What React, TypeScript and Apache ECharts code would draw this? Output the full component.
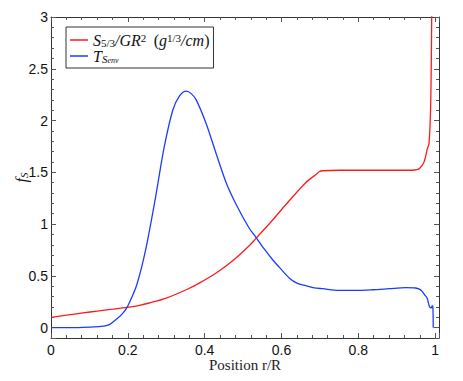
import React, { useEffect, useRef } from "react";
import * as echarts from "echarts";

// Red series: S_{5/3}/GR^2
const redX = [0, 0.04, 0.083, 0.12, 0.16, 0.198, 0.23, 0.256, 0.3, 0.352, 0.386, 0.43, 0.473, 0.516, 0.533, 0.577, 0.62, 0.663, 0.69, 0.698, 0.707, 0.75, 0.8, 0.85, 0.9, 0.94, 0.952, 0.96, 0.97, 0.975, 0.979, 0.984, 0.988, 0.99, 0.991, 0.992];
const redY = [0.1, 0.12, 0.142, 0.16, 0.178, 0.196, 0.215, 0.238, 0.286, 0.366, 0.43, 0.527, 0.645, 0.79, 0.86, 1.04, 1.225, 1.4, 1.48, 1.505, 1.515, 1.52, 1.52, 1.52, 1.52, 1.52, 1.525, 1.54, 1.59, 1.65, 1.72, 1.78, 2.1, 2.58, 3.0, 3.2];

// Blue series: T_{S_env}
const blueX = [0, 0.05, 0.1, 0.13, 0.152, 0.17, 0.185, 0.198, 0.21, 0.222, 0.235, 0.248, 0.261, 0.274, 0.295, 0.317, 0.335, 0.352, 0.365, 0.378, 0.404, 0.43, 0.456, 0.482, 0.516, 0.533, 0.555, 0.577, 0.6, 0.62, 0.64, 0.663, 0.685, 0.707, 0.75, 0.793, 0.837, 0.88, 0.923, 0.949, 0.96, 0.966, 0.972, 0.979, 0.985, 0.99, 0.992, 0.994, 0.995];
const blueY = [0, 0, 0.005, 0.012, 0.03, 0.08, 0.13, 0.196, 0.29, 0.4, 0.57, 0.78, 1.03, 1.3, 1.75, 2.1, 2.24, 2.285, 2.26, 2.2, 1.97, 1.68, 1.4, 1.19, 0.96, 0.875, 0.76, 0.656, 0.56, 0.48, 0.43, 0.405, 0.385, 0.376, 0.36, 0.36, 0.366, 0.376, 0.386, 0.383, 0.37, 0.35, 0.32, 0.286, 0.205, 0.19, 0.21, 0.205, 0];

const xMin = 0;
const xMax = 1.01;
const yMin = -0.1;
const yMax = 3;

const serif = "Liberation Serif";
const sans = "Liberation Sans";

export default function App() {
  const ref = useRef<HTMLDivElement>(null);
  useEffect(() => {
    if (!ref.current) return;
    const chart = echarts.init(ref.current, null, { renderer: "svg" });
    const lineColor = "#333";
    const tickColor = "#555";
    const gridRect = { left: 51, right: 24, top: 17, bottom: 43 };
    const richMath: any = {
      it: { fontFamily: serif, fontStyle: "italic", fontSize: 16, color: "#111", lineHeight: 16 },
      rm: { fontFamily: serif, fontSize: 16, color: "#111", lineHeight: 16 },
      sub: { fontFamily: serif, fontSize: 11, color: "#111", lineHeight: 10, verticalAlign: "bottom" },
      subi: { fontFamily: serif, fontStyle: "italic", fontSize: 11, color: "#111", lineHeight: 10, verticalAlign: "bottom" },
      sup: { fontFamily: serif, fontSize: 11, color: "#111", lineHeight: 10, verticalAlign: "top" },
      subsub: { fontFamily: serif, fontStyle: "italic", fontSize: 8, color: "#111", lineHeight: 6, verticalAlign: "bottom" },
    };
    const majorX = (pos: string, withLabels: boolean) => ({
      type: "value",
      gridIndex: 0,
      position: pos,
      min: xMin,
      max: xMax,
      interval: 0.2,
      name: withLabels ? "Position r/R" : "",
      nameLocation: "middle",
      nameGap: 19,
      nameMoveOverlap: false,
      nameTextStyle: { fontFamily: serif, fontSize: 15, lineHeight: 15, color: "#222" },
      axisLine: { show: true, onZero: false, lineStyle: { color: lineColor, width: 1 } },
      axisTick: { show: true, inside: true, length: 5, lineStyle: { color: tickColor } },
      axisLabel: {
        show: withLabels,
        margin: 5,
        lineHeight: 14,
        fontFamily: sans,
        fontSize: 14,
        color: "#111",
        formatter: (v: number) => (v > 1.005 ? "" : String(Math.round(v * 10) / 10)),
      },
      splitLine: { show: false },
    });
    const minorX = (pos: string) => ({
      type: "value",
      gridIndex: 1,
      position: pos,
      min: xMin,
      max: xMax,
      interval: 0.04,
      axisLine: { show: false, onZero: false },
      axisTick: { show: true, inside: true, length: 3, lineStyle: { color: tickColor } },
      axisLabel: { show: false },
      splitLine: { show: false },
    });
    const majorY = (pos: string, withLabels: boolean) => ({
      type: "value",
      gridIndex: 0,
      position: pos,
      min: yMin,
      max: yMax,
      splitNumber: 6,
      name: withLabels ? "{it|f}{subi|S}" : "",
      nameLocation: "middle",
      nameGap: 22,
      nameMoveOverlap: false,
      nameRotate: 90,
      nameTextStyle: { rich: richMath },
      axisLine: { show: true, onZero: false, lineStyle: { color: lineColor, width: 1 } },
      axisTick: { show: true, inside: true, length: 5, lineStyle: { color: tickColor } },
      axisLabel: {
        show: withLabels,
        margin: 3,
        fontFamily: sans,
        fontSize: 14,
        color: "#111",
        formatter: (v: number) => (v < -0.01 ? "" : String(Math.round(v * 10) / 10)),
      },
      splitLine: { show: false },
    });
    const minorY = (pos: string) => ({
      type: "value",
      gridIndex: 1,
      position: pos,
      min: yMin,
      max: yMax,
      interval: 0.1,
      axisLine: { show: false, onZero: false },
      axisTick: { show: true, inside: true, length: 3, lineStyle: { color: tickColor } },
      axisLabel: { show: false },
      splitLine: { show: false },
    });
    const redData = redX.map((x, i) => [x, redY[i]]);
    const blueData = blueX.map((x, i) => [x, blueY[i]]);
    chart.setOption({
      animation: false,
      backgroundColor: "#fff",
      grid: [
        { ...gridRect, containLabel: false },
        { ...gridRect, containLabel: false },
      ],
      xAxis: [majorX("bottom", true), majorX("top", false), minorX("bottom"), minorX("top")],
      yAxis: [majorY("left", true), majorY("right", false), minorY("left"), minorY("right")],
      legend: {
        orient: "vertical",
        left: 66,
        top: 27,
        padding: [5, 4, 4, 4],
        itemGap: 0,
        itemWidth: 18,
        itemHeight: 1.5,
        backgroundColor: "#fff",
        borderColor: "#333",
        borderWidth: 1,
        borderRadius: 0,
        data: [
          { name: "S", icon: "rect" },
          { name: "T", icon: "rect" },
        ],
        formatter: (name: string) =>
          name === "S"
            ? "{it|S}{sub|5/3}{it|/GR}{sup|2} {rm| (}{it|g}{sup|1/3}{it|/cm}{rm|)}"
            : "{it|T}{subi|S}{subsub|env}",
        textStyle: { rich: richMath, padding: [0, 0, 0, 0] },
      },
      series: [
        {
          name: "S",
          type: "line",
          xAxisIndex: 0,
          yAxisIndex: 0,
          data: redData,
          showSymbol: false,
          symbol: "none",
          smooth: 0.3,
          clip: true,
          lineStyle: { color: "#ff1a1a", width: 1.3 },
          itemStyle: { color: "#ff1a1a" },
        },
        {
          name: "T",
          type: "line",
          xAxisIndex: 0,
          yAxisIndex: 0,
          data: blueData,
          showSymbol: false,
          symbol: "none",
          smooth: 0.3,
          clip: true,
          lineStyle: { color: "#1a3cff", width: 1.3 },
          itemStyle: { color: "#1a3cff" },
        },
      ],
    });
    return () => chart.dispose();
  }, []);
  return <div ref={ref} style={{ width: 463, height: 381, position: "absolute", left: 0, top: 0 }} />;
}
